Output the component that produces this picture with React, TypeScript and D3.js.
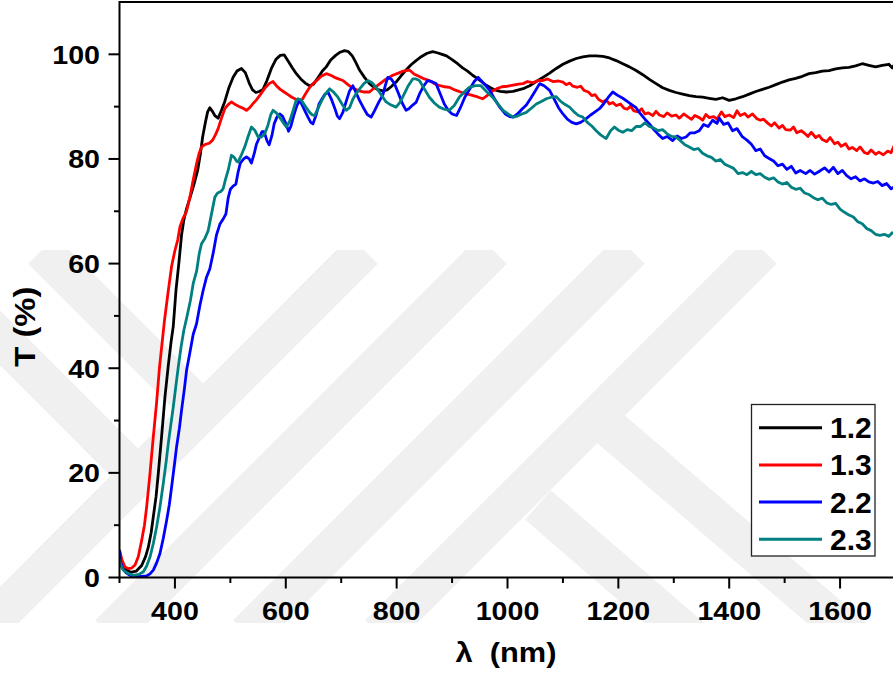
import React, { useEffect } from "react";
import * as d3 from "d3";

// transmittance spectra, [wavelength nm, T %]
const s12: [number, number][] = [
  [300, 3.8], [303, 2.5], [310, 1.6], [320, 1.0], [330, 1.2], [340, 2.3], [347, 4], [352, 5.8], [357, 8.5],
  [361, 11.6], [366, 15.5], [370, 19.9], [376, 27], [382, 34.5], [388, 40.5], [393, 45], [397, 48], [402, 55],
  [407, 60], [412, 65.5], [416, 68.3], [421, 70.5], [427, 72.5], [434, 75], [441, 77.8], [446, 81], [450, 84.2],
  [455, 87], [459, 89], [463, 89.8], [467, 89.2], [472, 88.3], [478, 87.8], [484, 89.3], [490, 91], [497, 93.5],
  [505, 95.6], [512, 96.8], [520, 97.3], [527, 96.5], [534, 94.5], [540, 93.2], [546, 92.7], [552, 92.9],
  [559, 93.3], [566, 95], [574, 97.3], [582, 99], [590, 99.8], [597, 99.9], [605, 98.6], [612, 97.4], [619, 96.3],
  [627, 95.3], [635, 94.5], [643, 94.0], [650, 94.3], [658, 95.5], [666, 96.8], [673, 97.6], [681, 98.9],
  [690, 99.8], [698, 100.4], [706, 100.7], [713, 100.5], [720, 99.7], [727, 98.3], [733, 97.0], [742, 95.6],
  [751, 94.4], [760, 93.6], [768, 93.2], [775, 93.0], [783, 93.2], [791, 93.9], [799, 94.7], [808, 95.9],
  [817, 97.0], [826, 98.0], [835, 98.8], [845, 99.6], [855, 100.2], [865, 100.5], [873, 100.3], [882, 100.0],
  [890, 99.7], [900, 99.0], [910, 98.2], [919, 97.4], [928, 96.8], [937, 96.0], [944, 95.5], [952, 94.9],
  [960, 94.2], [968, 93.7], [977, 93.2], [987, 92.9], [998, 92.8], [1010, 92.9], [1020, 93.2], [1030, 93.5],
  [1040, 94.0], [1052, 94.8], [1064, 95.6], [1076, 96.4], [1088, 97.3], [1100, 98.1], [1112, 98.7],
  [1124, 99.2], [1136, 99.5], [1148, 99.7], [1160, 99.7], [1172, 99.6], [1184, 99.3], [1196, 98.8],
  [1208, 98.2], [1220, 97.6], [1232, 96.9], [1244, 96.1], [1256, 95.2], [1268, 94.4], [1280, 93.6],
  [1292, 93.1], [1304, 92.7], [1316, 92.4], [1328, 92.1], [1340, 91.9], [1352, 91.8], [1364, 91.6],
  [1376, 91.4], [1388, 91.7], [1400, 91.2], [1412, 91.5], [1424, 91.9], [1436, 92.4], [1448, 92.9],
  [1460, 93.3], [1472, 93.7], [1484, 94.2], [1496, 94.7], [1508, 95.1], [1520, 95.4], [1532, 95.8],
  [1544, 96.3], [1556, 96.5], [1568, 96.8], [1580, 96.9], [1592, 97.2], [1604, 97.4], [1616, 97.5],
  [1628, 97.8], [1640, 98.2], [1652, 97.9], [1664, 97.6], [1676, 97.9], [1688, 98.1], [1694, 97.4], [1700, 98.3],
];

const s13: [number, number][] = [
  [300, 5.3], [304, 3.5], [310, 2.0], [316, 1.7], [322, 1.8], [328, 2.4], [334, 4], [340, 7.1], [345, 10],
  [349, 13.5], [355, 19.9], [361, 26.9], [367, 33.5], [372, 40], [377, 45], [381, 49], [387, 54], [394, 59.5],
  [400, 62.5], [405, 64.5], [409, 67], [414, 68.5], [421, 70], [427, 72.7], [433, 76], [439, 79.1], [444, 81.2],
  [448, 82.3], [455, 82.8], [462, 83.0], [468, 83.6], [473, 84.6], [478, 85.8], [484, 87.8], [490, 89.6],
  [496, 90.4], [502, 90.9], [509, 90.4], [516, 90.0], [523, 89.7], [529, 89.3], [535, 89.8], [541, 90.6],
  [547, 91.3], [554, 92.3], [562, 93.5], [570, 94.4], [577, 94.8], [583, 94.0], [590, 93.3], [597, 92.8],
  [604, 92.3], [611, 91.8], [618, 91.4], [624, 91.1], [630, 91.4], [636, 92.5], [642, 93.5], [649, 94.4],
  [656, 95.0], [664, 95.8], [673, 96.3], [681, 96.0], [688, 95.6], [695, 95.3], [703, 95.0], [710, 94.4],
  [717, 93.8], [724, 93.4], [732, 93.0], [740, 92.8], [751, 92.8], [760, 93.6], [770, 94.4], [780, 95.2],
  [793, 96.0], [803, 96.4], [812, 96.8], [823, 97.0], [832, 96.2], [840, 95.8], [850, 95.3], [859, 95.0],
  [868, 94.4], [878, 94.0], [887, 93.8], [895, 93.7], [905, 93.2], [915, 92.8], [925, 92.5], [935, 92.2],
  [945, 91.9], [955, 91.5], [962, 92.0], [970, 92.8], [980, 93.4], [990, 93.8], [1000, 93.9], [1010, 94.1],
  [1020, 94.3], [1028, 94.4], [1036, 94.8], [1046, 94.6], [1056, 95.0], [1064, 95.0], [1072, 95.3],
  [1082, 94.8], [1092, 94.9], [1100, 94.7], [1106, 94.2], [1112, 94.5], [1118, 93.9], [1126, 93.7],
  [1132, 93.9], [1138, 93.1], [1146, 92.8], [1152, 92.1], [1158, 92.3], [1164, 91.4], [1172, 90.9],
  [1178, 91.3], [1184, 90.5], [1190, 90.8], [1196, 90.2], [1204, 90.5], [1210, 89.7], [1216, 89.5],
  [1222, 90.1], [1228, 89.2], [1236, 89.0], [1242, 89.6], [1248, 88.6], [1254, 88.8], [1262, 88.3],
  [1268, 89.1], [1274, 88.4], [1282, 88.1], [1288, 88.8], [1296, 88.2], [1304, 88.4], [1310, 87.8],
  [1318, 88.6], [1326, 88.0], [1332, 87.6], [1338, 88.3], [1346, 87.9], [1352, 87.4], [1358, 88.5],
  [1364, 87.9], [1372, 88.1], [1378, 87.6], [1386, 89.0], [1392, 88.1], [1400, 88.4], [1408, 87.9],
  [1414, 89.2], [1420, 88.3], [1428, 88.7], [1434, 88.0], [1442, 88.6], [1450, 87.7], [1456, 87.4],
  [1462, 87.6], [1470, 86.8], [1476, 86.3], [1482, 86.9], [1490, 85.9], [1496, 86.4], [1502, 85.6],
  [1510, 85.5], [1516, 86.1], [1522, 85.0], [1530, 85.4], [1536, 84.9], [1542, 84.3], [1548, 85.1],
  [1556, 84.1], [1562, 84.5], [1568, 83.7], [1576, 83.3], [1582, 84.1], [1590, 82.9], [1596, 83.2],
  [1602, 82.4], [1610, 82.9], [1616, 81.9], [1622, 82.2], [1630, 81.6], [1636, 82.3], [1644, 81.2],
  [1650, 81.0], [1656, 81.7], [1664, 80.9], [1670, 81.3], [1678, 80.8], [1686, 81.5], [1692, 81.2],
  [1697, 82.4], [1700, 82.0],
];

const s22: [number, number][] = [
  [300, 5.2], [302, 3], [305, 1.8], [312, 0.9], [319, 0.4], [330, 0.2], [340, 0.2], [349, 0.3], [355, 0.7],
  [361, 1.4], [367, 2.8], [373, 4.6], [379, 7.5], [385, 10.9], [390, 14], [394, 17.3], [399, 21.5], [403, 25],
  [408, 28.5], [412, 32], [417, 36], [421, 39.6], [427, 43], [433, 46.5], [439, 48.5], [445, 52], [451, 54.9],
  [457, 57.4], [463, 59], [469, 62], [475, 65.5], [481, 67.5], [487, 68.5], [492, 69.5], [496, 72.5], [500, 74.2],
  [505, 74.8], [510, 75.2], [514, 77.5], [518, 79.2], [524, 80.0], [529, 80.4], [534, 80.0], [538, 79.2],
  [543, 81], [547, 82.8], [552, 84], [557, 85.2], [561, 85.2], [566, 83.5], [570, 82.7], [575, 84.5],
  [579, 86.7], [584, 88], [589, 88.6], [594, 88.2], [600, 86.8], [605, 85.3], [609, 86.2], [614, 88.2],
  [620, 90.2], [625, 91.2], [630, 90.2], [634, 89.3], [640, 88.0], [645, 87.0], [649, 86.7], [655, 88.5],
  [660, 90.5], [665, 91.4], [670, 92.3], [676, 92.8], [682, 91.5], [688, 89.8], [693, 88.2], [697, 87.7],
  [703, 88.9], [709, 91.0], [715, 93.0], [721, 94.0], [727, 92.6], [733, 91.2], [740, 89.8], [747, 88.5],
  [754, 88.0], [760, 89.2], [768, 90.9], [775, 92.2], [780, 94.2], [784, 95.6], [790, 95.3], [796, 94.4],
  [803, 92.6], [810, 90.7], [817, 89.3], [822, 89.6], [829, 90.3], [835, 90.8], [842, 92.6], [849, 94.0],
  [856, 95.0], [863, 94.8], [871, 94.4], [878, 92.6], [886, 90.5], [893, 89.3], [900, 88.6], [908, 88.3],
  [915, 89.8], [923, 91.8], [931, 93.2], [940, 94.8], [947, 95.6], [953, 94.9], [960, 94.1], [968, 93.1],
  [976, 91.6], [986, 89.9], [996, 88.6], [1004, 88.1], [1010, 88.0], [1018, 88.6], [1026, 89.5], [1034, 90.3],
  [1042, 91.6], [1050, 93.0], [1058, 94.4], [1066, 94.0], [1076, 93.1], [1084, 91.5], [1092, 89.8],
  [1100, 88.6], [1108, 87.6], [1116, 87.0], [1124, 86.7], [1132, 87.0], [1142, 87.7], [1150, 88.4],
  [1158, 89.0], [1166, 89.6], [1174, 90.6], [1182, 91.8], [1190, 92.8], [1198, 92.2], [1208, 91.6],
  [1216, 91.0], [1224, 90.4], [1232, 89.8], [1240, 88.6], [1248, 87.6], [1256, 86.7], [1264, 85.6],
  [1272, 84.7], [1280, 83.9], [1288, 84.3], [1298, 83.5], [1306, 84.4], [1314, 83.9], [1322, 84.2],
  [1330, 85.0], [1338, 85.0], [1346, 85.4], [1354, 86.6], [1362, 86.2], [1370, 87.4], [1378, 86.8],
  [1382, 87.8], [1390, 86.6], [1398, 86.9], [1406, 85.4], [1414, 85.8], [1424, 84.2], [1432, 83.6],
  [1440, 82.8], [1448, 81.6], [1456, 81.9], [1464, 80.6], [1472, 80.1], [1480, 79.6], [1488, 78.7],
  [1496, 79.0], [1504, 78.0], [1512, 78.6], [1520, 77.3], [1528, 77.8], [1538, 77.2], [1546, 77.8],
  [1554, 77.1], [1562, 77.6], [1572, 78.3], [1580, 77.5], [1588, 78.4], [1596, 77.2], [1604, 77.8],
  [1612, 76.8], [1620, 76.2], [1628, 76.6], [1636, 75.8], [1644, 76.2], [1652, 75.6], [1660, 75.4],
  [1668, 75.7], [1676, 74.9], [1684, 75.3], [1692, 74.3], [1700, 74.8],
];

const s23: [number, number][] = [
  [300, 3.5], [302, 2.4], [307, 1.4], [315, 0.8], [325, 0.4], [335, 0.6], [343, 1.1], [349, 2.2], [355, 3.9],
  [361, 6.5], [367, 9.7], [373, 13.5], [379, 18], [384, 22], [388, 25.6], [393, 29.5], [397, 32.6], [401, 36],
  [406, 40.2], [411, 44], [416, 47.2], [422, 50], [428, 53], [433, 56.2], [439, 58.5], [444, 62], [448, 63.8],
  [454, 64.8], [460, 66.3], [466, 69.5], [472, 72.7], [477, 73.5], [483, 73.8], [487, 74.3], [491, 76],
  [496, 77.8], [502, 80.7], [507, 80.3], [511, 79.6], [514, 79.4], [520, 80.8], [526, 82.3], [532, 84.3],
  [538, 86.1], [544, 85.5], [550, 84.2], [556, 84.2], [562, 84.8], [568, 86.5], [573, 88.5], [577, 89.3],
  [583, 88.8], [590, 87.8], [595, 87.0], [601, 86.1], [607, 87.2], [613, 89.2], [618, 91.0], [622, 91.5],
  [628, 91.2], [635, 90.1], [643, 88.9], [648, 88.4], [652, 88.3], [658, 89.6], [665, 91.2], [672, 92.5],
  [679, 93.4], [686, 92.8], [694, 91.8], [702, 90.4], [709, 89.3], [715, 89.8], [721, 91.4], [727, 92.5],
  [734, 93.5], [741, 94.4], [748, 95.0], [755, 94.6], [763, 93.7], [772, 92.3], [781, 90.9], [790, 90.3],
  [799, 89.9], [806, 90.8], [814, 92.5], [821, 94.0], [829, 95.3], [835, 95.3], [841, 95.0], [850, 93.4],
  [859, 91.8], [868, 90.7], [877, 89.9], [886, 89.5], [895, 89.3], [904, 90.2], [913, 91.8], [922, 92.8],
  [931, 93.7], [942, 94.0], [952, 94.0], [962, 92.9], [973, 91.8], [983, 90.5], [992, 89.3], [1001, 88.6],
  [1010, 88.0], [1018, 88.2], [1026, 88.6], [1034, 88.9], [1043, 89.7], [1052, 90.5], [1061, 91.0],
  [1070, 91.5], [1079, 91.8], [1088, 91.9], [1096, 91.0], [1104, 90.4], [1112, 89.9], [1120, 89.0],
  [1128, 88.3], [1136, 88.0], [1144, 87.0], [1152, 86.3], [1160, 85.4], [1168, 84.6], [1178, 83.9],
  [1186, 85.4], [1193, 86.1], [1200, 85.5], [1208, 85.1], [1216, 85.6], [1224, 85.4], [1232, 86.2],
  [1240, 86.2], [1248, 86.9], [1256, 86.2], [1264, 85.9], [1272, 85.4], [1280, 85.6], [1288, 84.8],
  [1296, 84.3], [1304, 84.2], [1312, 83.5], [1320, 82.7], [1328, 82.3], [1336, 81.8], [1344, 82.0],
  [1352, 81.1], [1360, 80.6], [1368, 80.3], [1376, 79.6], [1384, 79.9], [1392, 79.0], [1400, 78.6],
  [1408, 78.2], [1416, 77.2], [1424, 77.4], [1432, 77.0], [1440, 77.6], [1448, 77.0], [1456, 77.2],
  [1464, 76.5], [1472, 76.1], [1480, 76.4], [1488, 75.6], [1496, 75.2], [1504, 75.5], [1512, 74.6],
  [1520, 74.2], [1528, 74.4], [1536, 73.5], [1544, 73.2], [1552, 72.6], [1560, 72.2], [1568, 72.5],
  [1576, 71.6], [1584, 71.3], [1592, 71.5], [1600, 70.4], [1608, 69.8], [1616, 69.3], [1624, 68.9],
  [1632, 68.0], [1640, 67.6], [1648, 66.7], [1656, 66.3], [1664, 65.6], [1672, 65.4], [1680, 65.6],
  [1688, 65.2], [1694, 65.9], [1700, 65.7],
];

const seriesNames = ["1.2", "1.3", "2.2", "2.3"];
const seriesColors = ["#000000", "#ff0000", "#0000ff", "#008080"];
const xTickLabels = [400, 600, 800, 1000, 1200, 1400, 1600];
const yTickLabels = [0, 20, 40, 60, 80, 100];

const FONT = "'Liberation Sans', Arial, Helvetica, sans-serif";

// faint background watermark stripes (decoration only)
const watermark = [
  "M 42 250 L 204 412",
  "M 364 250 L -20 634",
  "M -20 318 L 138 476",
  "M 493 250 L 109 634",
  "M 631 250 L 247 634",
  "M 763 250 L 379 634",
  "M 538 505 L 700 645",
  "M 606 425 L 880 660",
];

export default function App() {
  useEffect(() => {
    document.body.style.margin = "0";
  }, []);

  const width = 893;
  const height = 675;
  const x = d3.scaleLinear().domain([300, 1700]).range([119.5, 895.5]);
  const y = d3.scaleLinear().domain([0, 110]).range([577.5, 2]);
  const line = d3
    .line<[number, number]>()
    .x((d) => x(d[0]))
    .y((d) => y(d[1]));

  const series = [s12, s13, s22, s23];
  const xMinor = d3.range(300, 1701, 200);
  const yMinor = d3.range(10, 100, 20);
  const legendRows = seriesNames.map((_, i) => 427.7 + i * 37.2);

  return (
    <svg width={width} height={height} style={{ display: "block", background: "#fff" }} fontFamily={FONT}>
      <defs>
        <clipPath id="wm">
          <rect x={0} y={250} width={width} height={373} />
        </clipPath>
        <clipPath id="plot">
          <rect x={x(300)} y={y(110)} width={x(1700) - x(300)} height={y(0) - y(110) + 2} />
        </clipPath>
      </defs>

      <g clipPath="url(#wm)" fill="none" stroke="#f0f0f0" strokeWidth={39}>
        {watermark.map((d, i) => (
          <path key={i} d={d} />
        ))}
      </g>

      <g clipPath="url(#plot)" fill="none" strokeWidth={2.8} strokeLinejoin="round">
        {series.map((s, i) => (
          <path key={i} d={line(s) || ""} stroke={seriesColors[i]} />
        ))}
      </g>

      {/* frame */}
      <g stroke="#000" strokeWidth={2} fill="none">
        <line x1={x(300)} x2={x(1700)} y1={y(110)} y2={y(110)} />
        <line x1={x(300)} x2={x(1700)} y1={y(0)} y2={y(0)} />
        <line x1={x(300)} x2={x(300)} y1={y(110) - 1} y2={y(0) + 1} />
        <line x1={x(1700)} x2={x(1700)} y1={y(110)} y2={y(0)} />
      </g>

      {/* ticks */}
      <g stroke="#000" strokeWidth={2}>
        {xTickLabels.map((v) => (
          <line key={v} x1={x(v)} x2={x(v)} y1={y(0)} y2={y(0) + 11} />
        ))}
        {xMinor.map((v) => (
          <line key={v} x1={x(v)} x2={x(v)} y1={y(0)} y2={y(0) + 5.5} />
        ))}
        {yTickLabels.map((v) => (
          <line key={v} x1={x(300) - 11} x2={x(300)} y1={y(v)} y2={y(v)} />
        ))}
        {yMinor.map((v) => (
          <line key={v} x1={x(300) - 5.5} x2={x(300)} y1={y(v)} y2={y(v)} />
        ))}
      </g>

      <g fontWeight="bold" fontSize={26} fill="#000">
        {xTickLabels.map((v) => (
          <text key={v} transform={`translate(${x(v)},620) scale(1.1,1)`} textAnchor="middle">
            {v}
          </text>
        ))}
        {yTickLabels.map((v) => (
          <text key={v} transform={`translate(100,${y(v) + 9.3}) scale(1.1,1)`} textAnchor="end">
            {v}
          </text>
        ))}
      </g>

      {/* axis titles */}
      <text
        transform="translate(35,326.7) rotate(-90)"
        textAnchor="middle"
        fontWeight="bold"
        fontSize={30}
        textLength={80}
        lengthAdjust="spacingAndGlyphs"
      >
        T (%)
      </text>
      <text
        x={506}
        y={662}
        textAnchor="middle"
        fontWeight="bold"
        fontSize={28}
        textLength={101}
        lengthAdjust="spacingAndGlyphs"
        style={{ whiteSpace: "pre" }}
      >
        {"λ  (nm)"}
      </text>

      {/* legend */}
      <rect x={751.5} y={404.5} width={123.5} height={151.5} fill="#fff" stroke="#222" strokeWidth={1.3} />
      {seriesNames.map((name, i) => (
        <g key={name}>
          <line x1={759} x2={822} y1={legendRows[i]} y2={legendRows[i]} stroke={seriesColors[i]} strokeWidth={3} />
          <text x={830} y={legendRows[i] + 10.5} fontSize={30} fontWeight="bold">
            {name}
          </text>
        </g>
      ))}
    </svg>
  );
}
